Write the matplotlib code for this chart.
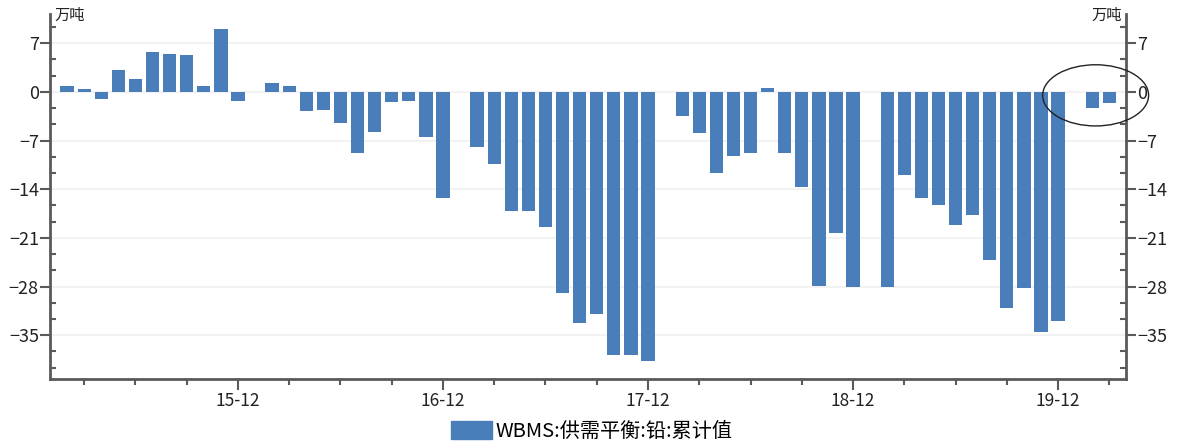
import numpy as np
import pandas as pd
import matplotlib
matplotlib.use("Agg")
import matplotlib.pyplot as plt
from matplotlib.patches import Ellipse
from matplotlib.ticker import MultipleLocator, FixedLocator

plt.rcParams['font.family'] = ['Noto Sans CJK SC', 'DejaVu Sans']

# 月份 (2015-02 ~ 2020-03), 每年1月无数据
months = pd.period_range('2015-02', '2020-03', freq='M')
values = [
    0.9, 0.4, -1.0, 3.2, 1.8, 5.7, 5.4, 5.3, 0.9, 9.0, -1.3,                     # 2015
    np.nan, 1.3, 0.9, -2.8, -2.6, -4.5, -8.8, -5.8, -1.5, -1.3, -6.5, -15.3,     # 2016
    np.nan, -8.0, -10.4, -17.1, -17.1, -19.5, -29.0, -33.3, -31.9, -37.8, -37.9, -38.7,  # 2017
    np.nan, -3.4, -5.9, -11.6, -9.2, -8.8, 0.6, -8.8, -13.7, -27.9, -20.3, -28.1,  # 2018
    np.nan, -28.1, -11.9, -15.2, -16.2, -19.1, -17.7, -24.2, -31.1, -28.2, -34.5, -33.0,  # 2019
    np.nan, -2.3, -1.6,                                                           # 2020
]
tick_labels = ['15-12', '16-12', '17-12', '18-12', '19-12']
series_name = 'WBMS:供需平衡:铅:累计值'
unit = '万吨'

blue = '#4a7ebb'
axis_grey = '#5a5a5a'
text_col = '#222222'

# x 位置: 以 2015-01 为 0 的月序号
x = np.array([(p.year - 2015) * 12 + p.month - 1 for p in months])
y = np.array(values, dtype=float)

fig = plt.figure(figsize=(11.77, 4.45), dpi=100)
ax = fig.add_axes([0.0425, 0.1483, 0.9145, 0.8202])

ax.bar(x, np.nan_to_num(y), width=0.78, color=blue, zorder=3)

ax.set_xlim(0, 63)
ax.set_ylim(-41.3, 11.2)

# 横向网格
ax.yaxis.set_major_locator(MultipleLocator(7))
ax.yaxis.set_minor_locator(MultipleLocator(7 / 3))
ax.grid(axis='y', which='major', color='#f0f0f0', linewidth=1.2, zorder=0)

major_x = [11, 23, 35, 47, 59]
ax.xaxis.set_major_locator(FixedLocator(major_x))
ax.xaxis.set_minor_locator(FixedLocator([i for i in range(2, 63, 3) if i not in major_x]))
ax.set_xticklabels(tick_labels)

ax.spines['top'].set_visible(False)
for side in ['left', 'right', 'bottom']:
    ax.spines[side].set_color(axis_grey)
    ax.spines[side].set_linewidth(2)

ax.tick_params(axis='y', which='major', direction='out', length=7, width=1.5,
               color=axis_grey, left=True, right=True, labelleft=True, labelright=True,
               labelsize=13, pad=1, labelcolor=text_col)
ax.tick_params(axis='y', which='minor', direction='in', length=4, width=1.5,
               color=axis_grey, left=True, right=True)
ax.tick_params(axis='x', which='major', direction='out', length=8, width=1.5,
               color=axis_grey, labelsize=12.5, pad=1, labelcolor=text_col)
ax.tick_params(axis='x', which='minor', direction='out', length=4, width=1.5,
               color=axis_grey)

# 单位
fig.text(0.046, 0.966, unit, fontsize=11, ha='left', va='center', color=text_col)
fig.text(0.953, 0.966, unit, fontsize=11, ha='right', va='center', color=text_col)

# 最新数据圈注
ell = Ellipse((61.2, -0.5), 6.2, 8.8, fill=False, edgecolor=text_col,
              linewidth=1.0, clip_on=False, zorder=4)
ax.add_patch(ell)

fig.legend(handles=[plt.Rectangle((0, 0), 1, 1, color=blue)], labels=[series_name],
           loc='center', bbox_to_anchor=(0.503, 0.031), frameon=False,
           fontsize=14.5, handlelength=2.0, handleheight=1.0, handletextpad=0.2)

fig.savefig('out.png', dpi=100)
